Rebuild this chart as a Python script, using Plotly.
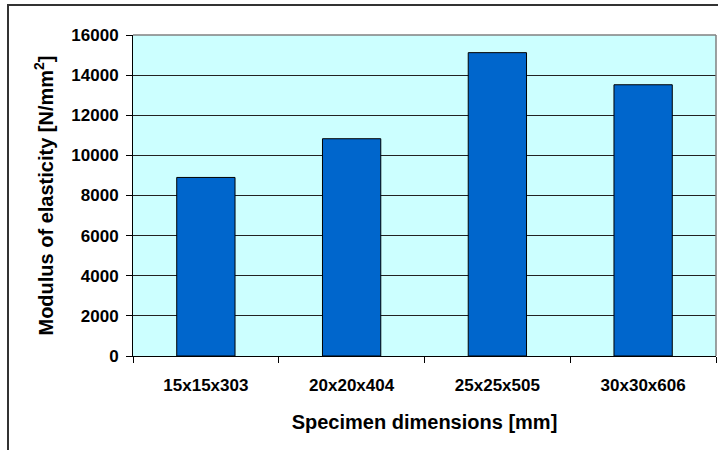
import plotly.graph_objects as go

categories = ["15x15x303", "20x20x404", "25x25x505", "30x30x606"]
modulus = [8900, 10830, 15120, 13520]
y_ticks = [0, 2000, 4000, 6000, 8000, 10000, 12000, 14000, 16000]
y_tick_labels = ["0", "2000", "4000", "6000", "8000", "10000", "12000", "14000", "16000"]

W, H = 718, 450
ML, MR, MT, MB = 133, 2, 35, 94
PW, PH = W - ML - MR, H - MT - MB

def px_x(p):
    return (p - ML) / PW

def px_y(p):
    return 1 - (p - MT) / PH

font = dict(family="Liberation Sans, Arial, sans-serif", color="black", weight="bold")

fig = go.Figure(go.Bar(
    x=categories, y=modulus, width=0.4,
    marker=dict(color="#0066CC", line=dict(color="black", width=1)),
))

fig.update_layout(
    width=W, height=H,
    margin=dict(l=ML, r=MR, t=MT, b=MB),
    paper_bgcolor="white", plot_bgcolor="#CCFFFF",
    showlegend=False,
    font=font,
    xaxis=dict(
        type="category", tickson="boundaries", ticks="outside", ticklen=6,
        tickcolor="black", showline=True, linecolor="black", linewidth=1,
        showgrid=False, tickfont=dict(size=17, **font), ticklabelstandoff=14,
        title=dict(text="Specimen dimensions [mm]", font=dict(size=20, **font), standoff=20),
    ),
    yaxis=dict(
        range=[0, 16000], tickvals=y_ticks, ticktext=y_tick_labels, ticks="outside", ticklen=6,
        tickcolor="black", showline=True, linecolor="black", linewidth=1,
        showgrid=True, gridcolor="#222222", gridwidth=1, zeroline=False,
        tickfont=dict(size=17, **font), ticklabelstandoff=4,
        title=dict(text="Modulus of elasticity [N/mm<sup>2</sup>]", font=dict(size=20, **font), standoff=12),
    ),
    shapes=[
        dict(type="line", xref="paper", yref="paper", x0=0, x1=1, y0=1, y1=1,
             line=dict(color="#808080", width=1.5)),
        dict(type="line", xref="paper", yref="paper", x0=1, x1=1, y0=0, y1=1,
             line=dict(color="#808080", width=1.5)),
        dict(type="rect", xref="paper", yref="paper",
             x0=px_x(8), x1=px_x(760), y0=px_y(480), y1=px_y(5),
             line=dict(color="#333333", width=2), fillcolor="rgba(0,0,0,0)"),
    ],
)

fig.write_html("out.html")
